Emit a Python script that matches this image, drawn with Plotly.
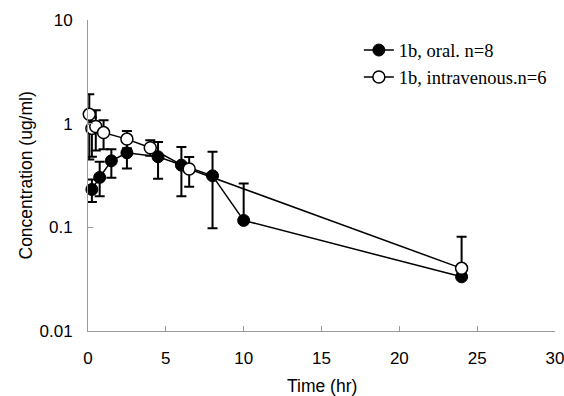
import plotly.graph_objects as go

# Oral administration (filled markers)
oral_time = [0.25, 0.75, 1.5, 2.5, 4.5, 6, 8, 10, 24]
oral_conc = [0.232, 0.303, 0.438, 0.523, 0.479, 0.398, 0.314, 0.1166, 0.0333]
oral_upper = [0.29, 0.43, 0.567, 0.67, 0.667, 0.597, 0.535, 0.265, 0.0333]
oral_lower = [0.176, 0.20, 0.30, 0.37, 0.294, 0.20, 0.098, 0.1166, 0.0333]

# Intravenous administration (open markers)
iv_time = [0.083, 0.25, 0.5, 1, 2.5, 4, 6.5, 24]
iv_conc = [1.23, 0.90, 0.94, 0.82, 0.71, 0.585, 0.365, 0.0402]
iv_upper = [1.92, 1.15, 1.35, 1.08, 0.85, 0.69, 0.478, 0.081]
iv_lower = [0.45, 0.48, 0.55, 0.565, 0.58, 0.49, 0.246, 0.0402]

y_tickvals = [0.01, 0.1, 1, 10]
y_ticktext = ["0.01", "0.1", "1", "10"]
x_tickvals = [0, 5, 10, 15, 20, 25, 30]


def err(vals, hi, lo):
    return (
        [h - v for v, h in zip(vals, hi)],
        [v - l for v, l in zip(vals, lo)],
    )


o_plus, o_minus = err(oral_conc, oral_upper, oral_lower)
i_plus, i_minus = err(iv_conc, iv_upper, iv_lower)

fig = go.Figure()
fig.add_trace(go.Scatter(
    x=oral_time, y=oral_conc, mode="lines+markers",
    name="1b, oral. n=8",
    line=dict(color="black", width=1.5),
    marker=dict(symbol="circle", size=12, color="black",
                line=dict(color="black", width=1)),
    error_y=dict(type="data", symmetric=False, array=o_plus, arrayminus=o_minus,
                 color="black", thickness=2, width=5),
    cliponaxis=False,
))
fig.add_trace(go.Scatter(
    x=iv_time, y=iv_conc, mode="lines+markers",
    name="1b, intravenous.n=6",
    line=dict(color="black", width=1.5),
    marker=dict(symbol="circle", size=12, color="white",
                line=dict(color="black", width=1.5)),
    error_y=dict(type="data", symmetric=False, array=i_plus, arrayminus=i_minus,
                 color="black", thickness=2, width=5),
    cliponaxis=False,
))

sans = "Arial, Liberation Sans, sans-serif"
tick_font = dict(family=sans, size=17, color="black")
title_font = dict(family=sans, size=17.5, color="black")

fig.update_layout(
    width=564, height=396,
    margin=dict(l=88, r=9, t=20, b=65),
    paper_bgcolor="white", plot_bgcolor="white",
    showlegend=True,
    legend=dict(x=0.58, y=0.963, xanchor="left", yanchor="top",
                font=dict(family="Times New Roman, Liberation Serif, serif", size=18.5, color="black"),
                bgcolor="rgba(0,0,0,0)", traceorder="normal"),
    xaxis=dict(range=[0, 30], tickvals=x_tickvals, ticks="inside", ticklen=5,
               tickcolor="#999999", showline=True, linecolor="#999999", linewidth=1,
               showgrid=False, zeroline=False, tickfont=tick_font,
               ticklabelstandoff=12, ticklabeloverflow="allow", automargin=False),
    yaxis=dict(type="log", range=[-2, 1], tickvals=y_tickvals, ticktext=y_ticktext,
               ticks="inside", ticklen=5, tickcolor="#999999", showline=True,
               linecolor="#999999", linewidth=1, showgrid=False, zeroline=False,
               tickfont=tick_font, ticklabelstandoff=11, ticklabeloverflow="allow",
               automargin=False),
    annotations=[
        dict(text="Time (hr)", xref="paper", yref="paper", x=0.5, y=0,
             xanchor="center", yanchor="middle", yshift=-55, showarrow=False,
             font=title_font),
        dict(text="Concentration (ug/ml)", xref="paper", yref="paper", x=0, y=0.5,
             xanchor="center", yanchor="middle", xshift=-63, textangle=-90,
             showarrow=False, font=title_font),
    ],
)

fig.write_html(
    "out.html",
    config={"displayModeBar": False},
    post_script="document.body.style.margin='0';document.body.style.overflow='hidden';",
)
